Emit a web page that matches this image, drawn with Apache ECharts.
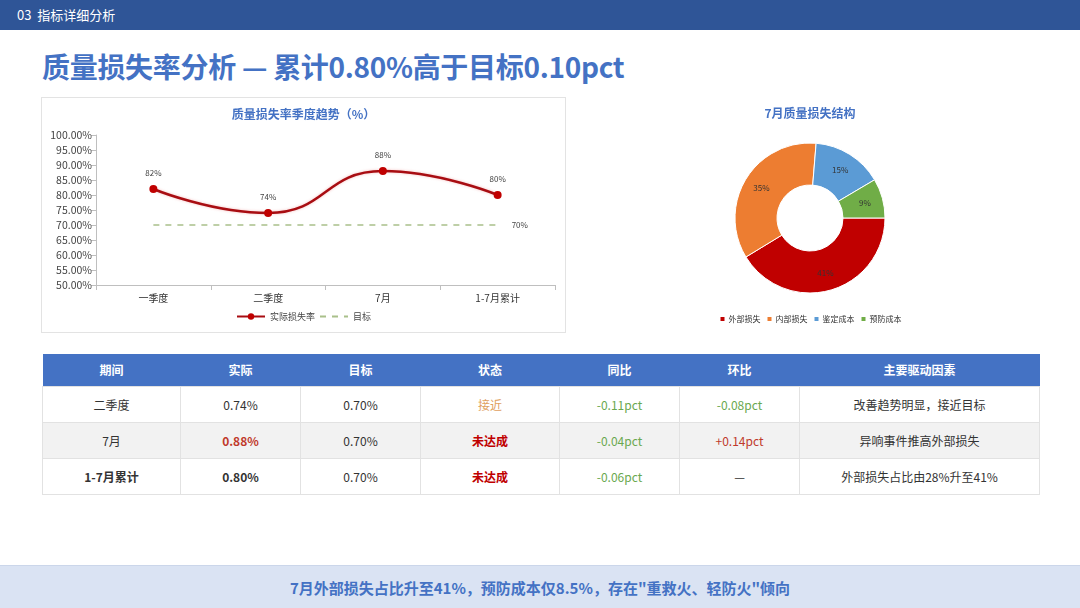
<!DOCTYPE html>
<html>
<head>
<meta charset="utf-8">
<script src="https://cdn.jsdelivr.net/npm/echarts@6/dist/echarts.min.js"></script>
<style>
    * { margin: 0; padding: 0; box-sizing: border-box; }
    body { width: 1080px; height: 608px; position: relative; background: #fff; font-family: "Noto Sans CJK SC", "Noto Sans", sans-serif; overflow: hidden; }
    .topbar { position: absolute; left: 0; top: 0; width: 1080px; height: 30px; background: #2f5597; color: #fff; font-size: 13px; line-height: 30px; padding-left: 17px; }
    .title { position: absolute; left: 42px; top: 45px; font-size: 28px; font-weight: bold; color: #4472c4; line-height: 42px; letter-spacing: -0.3px; }
    #lineChart { position: absolute; left: 41px; top: 97px; width: 525px; height: 236px; border: 1px solid #e3e3e3; }
    #pieChart { position: absolute; left: 690px; top: 97px; width: 240px; height: 236px; }
    table { position: absolute; left: 42px; top: 354px; width: 997px; border-collapse: collapse; font-size: 12px; color: #333; table-layout: fixed; }
    th { background: #4472c4; color: #fff; height: 32px; font-weight: bold; font-size: 12px; }
    td { height: 36px; text-align: center; border: 1px solid #e2e2e2; }
    tr.alt td { background: #f2f2f2; }
    .footer { position: absolute; left: 0; top: 565px; width: 1080px; height: 43px; background: #dae3f3; border-top: 1px solid #cbd6ea; color: #4472c4; font-size: 15px; font-weight: bold; text-align: center; line-height: 43px; }
</style>
</head>
<body>
<div class="topbar">03&nbsp; 指标详细分析</div>
<div class="title">质量损失率分析 — 累计0.80%高于目标0.10pct</div>
<div id="lineChart"></div>
<div id="pieChart"></div>
<table id="statTable">
    <colgroup>
        <col style="width:138px"><col style="width:120px"><col style="width:120px"><col style="width:139px">
        <col style="width:120px"><col style="width:120px"><col style="width:240px">
    </colgroup>
    <thead id="statTableHead"></thead>
    <tbody id="statTableBody"></tbody>
</table>
<div class="footer">7月外部损失占比升至41%，预防成本仅8.5%，存在"重救火、轻防火"倾向</div>
<script>
// 折线图数据
const periods = ["一季度", "二季度", "7月", "1-7月累计"];
const actualRate = [82, 74, 88, 80];
const targetRate = [70, 70, 70, 70];

// 饼图数据
const lossTypes = ["外部损失", "内部损失", "鉴定成本", "预防成本"];
const lossShare = [41.3, 35.0, 15.2, 8.5];
const lossColors = ["#c00000", "#ed7d31", "#5b9bd5", "#70ad47"];

// 表格数据
const tableHead = ["期间", "实际", "目标", "状态", "同比", "环比", "主要驱动因素"];
const rowPeriod = ["二季度", "7月", "1-7月累计"];
const rowActual = ["0.74%", "0.88%", "0.80%"];
const rowTarget = ["0.70%", "0.70%", "0.70%"];
const rowStatus = ["接近", "未达成", "未达成"];
const rowYoy = ["-0.11pct", "-0.04pct", "-0.06pct"];
const rowMom = ["-0.08pct", "+0.14pct", "—"];
const rowDriver = ["改善趋势明显，接近目标", "异响事件推高外部损失", "外部损失占比由28%升至41%"];

const green = "#6aa84f";
const red = "#c0392b";

function renderTable() {
    document.getElementById("statTableHead").innerHTML =
        "<tr>" + tableHead.map(h => `<th>${h}</th>`).join("") + "</tr>";
    let html = "";
    rowPeriod.forEach((p, i) => {
        const bold = i === 2 ? "font-weight:bold;" : "";
        const actStyle = i === 1 ? `color:${red};font-weight:bold;` : bold;
        const statusStyle = rowStatus[i] === "接近" ? "color:#e0a060;" : "color:#c00000;font-weight:bold;";
        const momStyle = rowMom[i].startsWith("+") ? `color:${red};` : (rowMom[i].startsWith("-") ? `color:${green};` : "");
        html += `
        <tr class="${i === 1 ? "alt" : ""}">
            <td style="${bold}">${p}</td>
            <td style="${actStyle}">${rowActual[i]}</td>
            <td>${rowTarget[i]}</td>
            <td style="${statusStyle}">${rowStatus[i]}</td>
            <td style="color:${green};">${rowYoy[i]}</td>
            <td style="${momStyle}">${rowMom[i]}</td>
            <td>${rowDriver[i]}</td>
        </tr>`;
    });
    document.getElementById("statTableBody").innerHTML = html;
}

function renderLine() {
    const chart = echarts.init(document.getElementById("lineChart"));
    chart.setOption({
        animation: false,
        textStyle: { fontFamily: "Noto Sans CJK SC" },
        title: {
            text: "质量损失率季度趋势（%）", left: "center", top: 5,
            textStyle: { fontSize: 12, fontWeight: "bold", color: "#4472c4" }
        },
        legend: {
            bottom: 6, itemWidth: 28, itemHeight: 8, itemGap: 4,
            textStyle: { fontSize: 9, color: "#444" },
            data: ["实际损失率", { name: "目标", itemStyle: { opacity: 0 } }]
        },
        grid: { left: 54, right: 10, top: 37, bottom: 47 },
        xAxis: {
            type: "category", data: periods, boundaryGap: true,
            axisLine: { lineStyle: { color: "#bfbfbf" } },
            axisTick: { show: true, lineStyle: { color: "#bfbfbf" } },
            axisLabel: { fontSize: 10, color: "#333", margin: 8 }
        },
        yAxis: {
            type: "value", min: 50, max: 100, interval: 5,
            axisLine: { show: true, lineStyle: { color: "#bfbfbf" } },
            axisTick: { show: true, lineStyle: { color: "#bfbfbf" } },
            splitLine: { show: false },
            axisLabel: { fontSize: 10.5, color: "#444", margin: 4, formatter: v => v.toFixed(2) + "%" }
        },
        series: [
            {
                name: "实际损失率", type: "line", data: actualRate, smooth: true,
                symbol: "circle", symbolSize: 8,
                lineStyle: { color: "#a80d12", width: 2.5, shadowColor: "rgba(220,0,0,0.25)", shadowBlur: 3 },
                itemStyle: { color: "#c00000" },
                label: { show: true, position: "top", distance: 8, fontSize: 8, color: "#444", formatter: p => p.value + "%" }
            },
            {
                name: "目标", type: "line", data: targetRate, symbol: "none",
                lineStyle: { color: "#a9c08a", width: 1.5, type: [6, 6] },
                itemStyle: { color: "#a9c08a" },
                endLabel: { show: true, fontSize: 8, color: "#444", distance: 14, formatter: p => p.value + "%" }
            }
        ]
    });
    window.addEventListener("resize", () => chart.resize());
}

function renderPie() {
    const chart = echarts.init(document.getElementById("pieChart"));
    chart.setOption({
        animation: false,
        textStyle: { fontFamily: "Noto Sans CJK SC" },
        title: {
            text: "7月质量损失结构", left: "center", top: 5,
            textStyle: { fontSize: 12, fontWeight: "bold", color: "#4472c4" }
        },
        legend: {
            bottom: 5, itemWidth: 6, itemHeight: 6, itemGap: 5, icon: "rect",
            textStyle: { fontSize: 8, color: "#333", padding: [0, 0, 0, -2] },
            data: lossTypes
        },
        color: lossColors,
        series: [{
            type: "pie", center: [120, 121], radius: [33, 75], startAngle: 0, clockwise: true,
            itemStyle: { borderColor: "#fff", borderWidth: 1 },
            label: { show: true, position: "inside", fontSize: 8, color: "#333", formatter: p => Math.round(p.value) + "%" },
            labelLine: { show: false },
            data: lossTypes.map((n, i) => ({ name: n, value: lossShare[i] }))
        }]
    });
    window.addEventListener("resize", () => chart.resize());
}

renderTable();
renderLine();
renderPie();
</script>
</body>
</html>
